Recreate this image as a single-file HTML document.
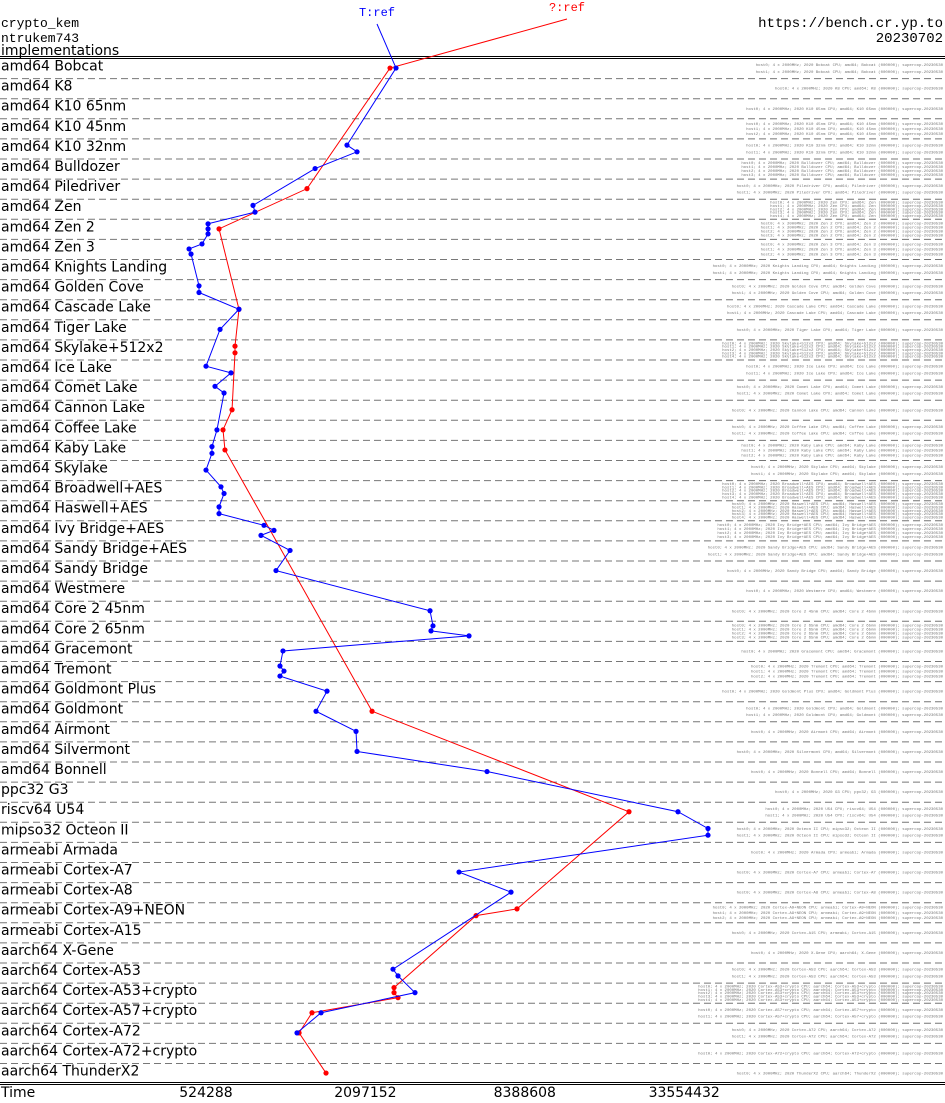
<!DOCTYPE html>
<html><head><meta charset="utf-8"><style>
html,body{margin:0;padding:0;background:#fff;width:945px;height:1103px;overflow:hidden}
svg{display:block}
.lab{font-family:"DejaVu Sans","Liberation Sans",sans-serif;font-size:14px;fill:#000}
.mono{font-family:"Liberation Mono",monospace;font-size:13px;fill:#000}
.tiny{font-family:"Liberation Mono",monospace;font-size:4px;fill:#777}
</style></head><body>
<svg id="chart" width="945" height="1103" viewBox="0 0 945 1103" xmlns="http://www.w3.org/2000/svg">
<text class="mono" x="1" y="27">crypto_kem</text>
<text class="mono" x="1" y="42">ntrukem743</text>
<text class="lab" x="1" y="55">implementations</text>
<text class="mono" x="943" y="27" text-anchor="end" style="font-size:14px">https://bench.cr.yp.to</text>
<text class="mono" x="943" y="42" text-anchor="end" style="font-size:14px">20230702</text>
<line x1="0" y1="56.5" x2="945" y2="56.5" stroke="#000"/>
<line x1="0" y1="58.5" x2="945" y2="58.5" stroke="#000"/>
<line x1="0" y1="1082.5" x2="945" y2="1082.5" stroke="#000"/>
<line x1="0" y1="1084.5" x2="945" y2="1084.5" stroke="#000"/>
<text class="lab" x="1" y="1097">Time</text>
<g id="rows"></g><g id="ticks"></g><g id="series"></g>
</svg>
<script>
const categories=["amd64 Bobcat","amd64 K8","amd64 K10 65nm","amd64 K10 45nm","amd64 K10 32nm","amd64 Bulldozer","amd64 Piledriver","amd64 Zen","amd64 Zen 2","amd64 Zen 3","amd64 Knights Landing","amd64 Golden Cove","amd64 Cascade Lake","amd64 Tiger Lake","amd64 Skylake+512x2","amd64 Ice Lake","amd64 Comet Lake","amd64 Cannon Lake","amd64 Coffee Lake","amd64 Kaby Lake","amd64 Skylake","amd64 Broadwell+AES","amd64 Haswell+AES","amd64 Ivy Bridge+AES","amd64 Sandy Bridge+AES","amd64 Sandy Bridge","amd64 Westmere","amd64 Core 2 45nm","amd64 Core 2 65nm","amd64 Gracemont","amd64 Tremont","amd64 Goldmont Plus","amd64 Goldmont","amd64 Airmont","amd64 Silvermont","amd64 Bonnell","ppc32 G3","riscv64 U54","mipso32 Octeon II","armeabi Armada","armeabi Cortex-A7","armeabi Cortex-A8","armeabi Cortex-A9+NEON","armeabi Cortex-A15","aarch64 X-Gene","aarch64 Cortex-A53","aarch64 Cortex-A53+crypto","aarch64 Cortex-A57+crypto","aarch64 Cortex-A72","aarch64 Cortex-A72+crypto","aarch64 ThunderX2"];
const machineCounts=[2,1,1,3,2,4,2,5,4,3,2,2,2,1,5,2,2,1,2,3,2,5,5,4,2,1,1,1,4,1,3,1,2,1,1,1,1,2,2,1,1,1,3,1,1,2,5,2,2,1,1];
const tickValues=[524288,2097152,8388608,33554432];
const tickLabels=["524288","2097152","8388608","33554432"];
const refRows=[0,4,4,5,7,7,8,8,8,9,9,9,11,11,12,13,15,15,16,16,18,19,19,20,21,21,22,22,23,23,23,24,25,27,28,28,28,29,30,30,30,31,32,33,34,35,37,38,38,40,41,45,45,46,47,48];
const refCycles=[2737000,1787000,1950000,1354000,789000,803000,533700,533700,533700,506400,452500,460300,493400,493400,698400,592400,524288,651700,566900,613400,576700,552200,552200,524288,597200,613400,587200,587200,868200,946900,845700,1089000,963600,3679000,3775000,3710000,5164000,1024000,997700,1033000,997700,1502000,1365000,1933000,1950000,6040000,31790000,41270000,41270000,4733000,7441000,2666000,2785000,3228000,1426000,1157000];
const anyRows=[0,6,8,12,14,14,17,18,19,32,37,42,42,46,46,46,47,48,50];
const anyCycles=[2598000,1262000,587200,698400,674700,674700,657500,607900,618300,2222000,20760000,7838000,5490000,2690000,2690000,2785000,1318000,1178000,1489000];

const NS="http://www.w3.org/2000/svg";
const rowTop=i=>58+20.1*i, rowH=20.1;
const xScale=v=>206+(Math.log2(v)-19)*79.7;
function mk(tag,attrs,parent){const e=document.createElementNS(NS,tag);for(const k in attrs)e.setAttribute(k,attrs[k]);parent.appendChild(e);return e;}
const rows=document.getElementById('rows');
categories.forEach((c,i)=>{
  const t=mk('text',{x:1,y:rowTop(i)+12.5,'class':'lab'},rows);
  
  
  t.textContent=c;
  if(i<categories.length-1){
    const l=mk('line',{x1:0,x2:945,y1:rowTop(i+1)+0.5,y2:rowTop(i+1)+0.5,stroke:'#777','stroke-dasharray':'7,4'},rows);
    
    
  }
  const n=machineCounts[i];
  for(let k=0;k<n;k++){
    const m=mk('text',{x:943,y:rowTop(i)+(k+1)*rowH/(n+1)+1.5,'class':'tiny','text-anchor':'end'},rows);
    
    
    m.textContent='host'+k+'; 4 x 2000MHz; 2020 '+c.split(' ').slice(1).join(' ')+' CPU; '+c.split(' ')[0]+'; '+c.split(' ').slice(1).join(' ')+' (000000); supercop-20230530';
  }
});
const ticks=document.getElementById('ticks');
tickValues.forEach((v,i)=>{
  const t=mk('text',{x:xScale(v),y:1097,'class':'lab','text-anchor':'middle'},ticks);
  
  
  t.textContent=tickLabels[i];
});
function pts(rowsArr,cyc){
  const cnt={},idx={};rowsArr.forEach(r=>cnt[r]=(cnt[r]||0)+1);
  return rowsArr.map((r,i)=>{idx[r]=(idx[r]||0)+1;return [xScale(cyc[i]),rowTop(r)+idx[r]*rowH/(cnt[r]+1)];});
}
function drawSeries(p,color,name,lab){
  const g=mk('g',{},document.getElementById('series'));
  
  
  const path=[[lab[0],lab[1]+8]].concat(p);
  const pl=mk('polyline',{points:path.map(q=>q.join(',')).join(' '),fill:'none',stroke:color,'stroke-width':1},g);
  
  
  p.forEach(q=>{
    const c=mk('circle',{cx:q[0],cy:q[1],r:2.6,fill:color},g);
    
    
  });
  const t=mk('text',{x:lab[0],y:lab[1],fill:color,'text-anchor':'middle','font-family':'Liberation Mono, monospace','font-size':'12'},g);
  
  
  t.textContent=name==='t-ref'?'T:ref':'?:ref';
}
drawSeries(pts(anyRows,anyCycles),'#f00','any-ref',[567,11]);
drawSeries(pts(refRows,refCycles),'#00f','t-ref',[377,16]);
</script>
</body></html>
